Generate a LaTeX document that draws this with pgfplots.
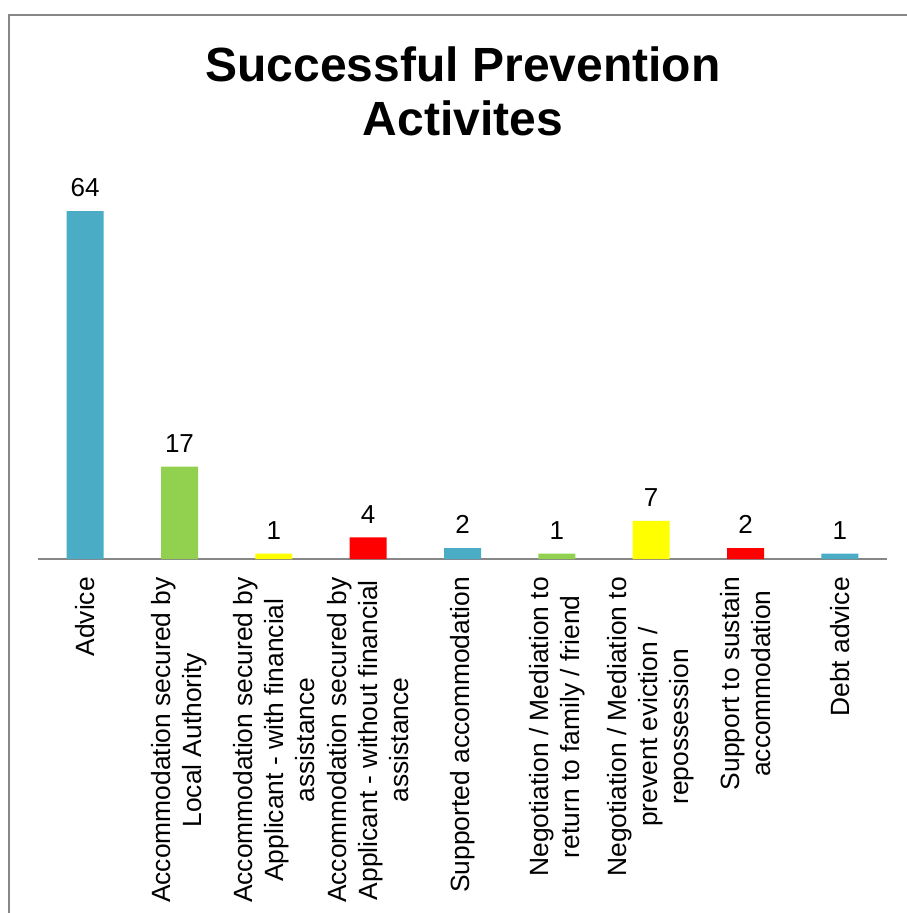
\documentclass[border=0pt]{standalone}
\usepackage{pgfplots}
\pgfplotsset{compat=1.18}
\usepackage{fontspec}
\setmainfont{Liberation Sans}
\definecolor{cteal}{HTML}{4BACC6}
\definecolor{cgreen}{HTML}{92D050}
\definecolor{cyellow}{HTML}{FFFF00}
\definecolor{cred}{HTML}{FF0000}
\definecolor{frame}{HTML}{878787}
\begin{document}
\begin{tikzpicture}
\path[use as bounding box] (0pt,0pt) rectangle (907pt,-913pt);
\clip (0pt,0pt) rectangle (907pt,-913pt);
\draw[frame, line width=2pt] (9pt,-960pt) -- (9pt,-15pt) -- (960pt,-15pt);
\node[anchor=base, font=\fontsize{48}{54}\selectfont\bfseries] at (463pt,-81pt) {Successful Prevention};
\node[anchor=base, font=\fontsize{48}{54}\selectfont\bfseries] at (463pt,-135pt) {Activites};
\begin{axis}[
  at={(38pt,-559pt)}, anchor=south west,
  scale only axis, width=849pt, height=380.625pt,
  xmin=-0.5, xmax=8.5, ymin=0, ymax=70,
  enlargelimits=false, clip=false,
  axis y line=none,
  axis x line*=bottom,
  axis line style={frame, line width=1.5pt, -},
  ytick=\empty,
  xtick={0,1,2,3,4,5,6,7,8},
  major tick length=0pt,
  xticklabels={{Advice},{Accommodation secured by\\Local Authority},{Accommodation secured by\\Applicant - with financial\\assistance},{Accommodation secured by\\Applicant - without financial\\assistance},{Supported accommodation},{Negotiation / Mediation to\\return to family / friend},{Negotiation / Mediation to\\prevent eviction /\\repossession},{Support to sustain\\accommodation},{Debt advice}},
  xticklabel style={rotate=90, anchor=east, align=center, inner sep=0pt, font=\fontsize{26.4}{31}\selectfont},
  xticklabel shift=18pt,
  ybar, bar width=37pt,
  /pgf/number format/assume math mode=true,
  nodes near coords,
  nodes near coords style={anchor=south, inner sep=0pt, yshift=14pt, font=\fontsize{26}{30}\selectfont, text=black},
]
\addplot[bar shift=0pt, fill=cteal, draw=none] coordinates {(0,64) (4,2) (8,1)};
\addplot[bar shift=0pt, fill=cgreen, draw=none] coordinates {(1,17) (5,1)};
\addplot[bar shift=0pt, fill=cyellow, draw=none] coordinates {(2,1) (6,7)};
\addplot[bar shift=0pt, fill=cred, draw=none] coordinates {(3,4) (7,2)};
\end{axis}
\end{tikzpicture}
\end{document}
